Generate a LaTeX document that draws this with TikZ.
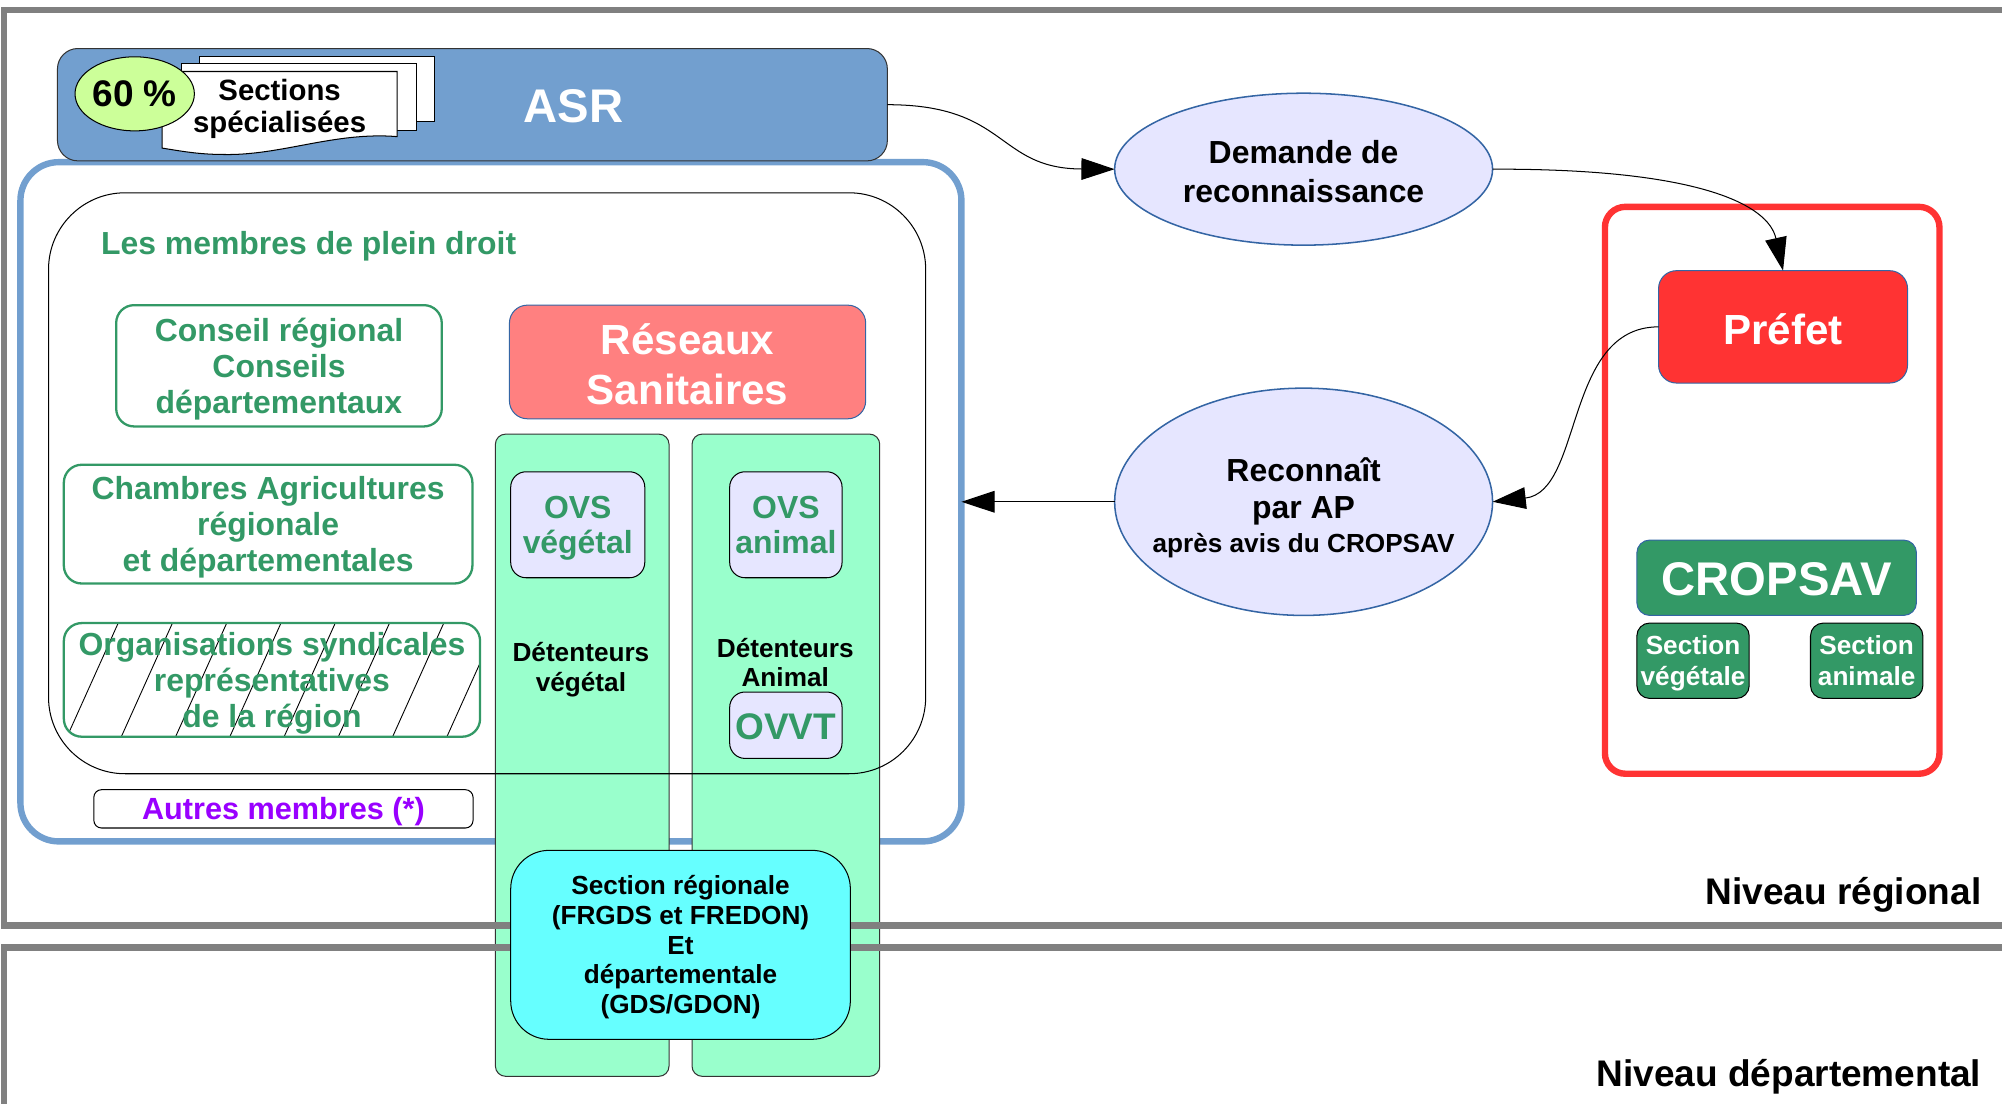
\documentclass[tikz,border=0pt]{standalone}
\usepackage{fontspec}
\setmainfont{Liberation Sans}
\usetikzlibrary{arrows.meta,shapes.geometric}
\definecolor{framegray}{HTML}{808080}
\definecolor{asrblue}{HTML}{729FCF}
\definecolor{borderblue}{HTML}{3465A4}
\definecolor{lightgreen}{HTML}{CCFF99}
\definecolor{memgreen}{HTML}{339966}
\definecolor{salmon}{HTML}{FF8080}
\definecolor{mint}{HTML}{99FFCC}
\definecolor{lavender}{HTML}{E6E6FF}
\definecolor{cyanbox}{HTML}{66FFFF}
\definecolor{redc}{HTML}{FF3333}
\definecolor{purp}{HTML}{9900FF}
\begin{document}
\begin{tikzpicture}[x=1pt,y=-1pt,
  grayframe/.style={draw=framegray,line width=5pt},
  membox/.style={draw=memgreen,line width=1.8pt,rounded corners=14pt,align=center,inner sep=0pt,outer sep=0pt,text=memgreen,font=\fontsize{25}{28}\selectfont\bfseries},
  ovsbox/.style={draw=black,line width=0.8pt,fill=lavender,rounded corners=12pt,align=center,inner sep=0pt,outer sep=0pt,text=memgreen,font=\fontsize{25}{28}\selectfont\bfseries},
  mintcol/.style={draw=black!80,line width=0.8pt,fill=mint,rounded corners=8pt,inner sep=0pt,outer sep=0pt},
  secbox/.style={draw=black,line width=0.8pt,fill=memgreen,rounded corners=10pt,align=center,inner sep=0pt,outer sep=0pt,text=white,font=\fontsize{20.5}{24}\selectfont\bfseries},
  bluebox/.style={draw=borderblue,line width=0.8pt,rounded corners=14pt,inner sep=0pt,outer sep=0pt},
  whitetext/.style={text=white,align=center,inner sep=0pt},
  oval/.style={ellipse,draw=borderblue,line width=1.2pt,fill=lavender,inner sep=0pt,outer sep=0pt,align=center},
  blacktext/.style={align=center,inner sep=0pt,font=\fontsize{20.5}{23}\selectfont\bfseries},
  arr/.style={line width=0.8pt,-{Triangle[length=26pt,width=17pt]}},
]
\useasboundingbox (0,0) rectangle (1568,864);

% blue frame
\node[draw=asrblue,line width=5pt,rounded corners=30pt,minimum width=737pt,minimum height=532pt,inner sep=0pt,outer sep=0pt] (blue) at (384.5,393) {};

% green columns
\node[mintcol,minimum width=136pt,minimum height=503pt] (colv) at (456,591.5) {};
\node[mintcol,minimum width=147pt,minimum height=503pt] (cola) at (615.5,591.5) {};

% level frames
\draw[grayframe] (1590,8) -- (3,8) -- (3,725) -- (1590,725);
\draw[grayframe] (1590,742) -- (3,742) -- (3,880);

% members of full right
\node[draw=black,line width=0.8pt,rounded corners=60pt,minimum width=687pt,minimum height=455pt,inner sep=0pt,outer sep=0pt] (members) at (381.5,378.5) {};

% ASR
\node[draw=black!80,line width=0.8pt,fill=asrblue,rounded corners=16pt,minimum width=650pt,minimum height=88pt,inner sep=0pt,outer sep=0pt] (asr) at (370,82) {};
\node[whitetext,font=\fontsize{37}{40}\selectfont\bfseries] (asrlabel) at (449,83) {ASR};

% multi document
\draw[fill=white,line width=0.8pt] (156,44) rectangle (340,95);
\draw[fill=white,line width=0.8pt] (142,50) rectangle (326,102);
\draw[fill=white,line width=0.8pt] (127,56) -- (311,56) -- (311,107) .. controls (262,103) and (220,122) .. (175,121) .. controls (155,121) and (140,118) .. (127,116) -- cycle;
\node[blacktext,font=\fontsize{23}{25}\selectfont\bfseries] (sect) at (219,85) {Sections\\spécialisées};
\node[ellipse,draw=black,line width=0.8pt,fill=lightgreen,minimum width=88pt,minimum height=58pt,inner sep=0pt,font=\fontsize{29}{30}\selectfont\bfseries] (pct) at (105.5,73.5) {60 \%};

% members
\node[anchor=west,inner sep=0pt,text=memgreen,font=\fontsize{25}{28}\selectfont\bfseries] (lesm) at (79,193) {Les membres de plein droit};
\node[membox,minimum width=255pt,minimum height=95pt,text depth=-0.7pt] (conseil) at (218.5,286.5) {Conseil régional\\Conseils\\départementaux};
\node[membox,minimum width=320pt,minimum height=93pt,text depth=-0.7pt] (chambres) at (210,410.5) {Chambres Agricultures\\régionale\\et départementales};
\begin{scope}
\clip[rounded corners=14pt] (50,488) rectangle (376,577);
\foreach \k in {-3,...,9} \draw[line width=0.7pt] ({52.5+42.5*\k-25},{577+55.6}) -- ++(90,-200);
\end{scope}
\node[membox,minimum width=326pt,minimum height=89pt,text depth=-1.7pt] (orgs) at (213,532.5) {Organisations syndicales\\représentatives\\de la région};
\node[draw=black,line width=0.8pt,fill=white,rounded corners=6pt,minimum width=297pt,minimum height=30pt,inner sep=0pt,text depth=-0.7pt,text=purp,font=\fontsize{24}{26}\selectfont\bfseries] (autres) at (222,633.5) {Autres membres (*)};

% reseaux sanitaires
\node[bluebox,fill=salmon,minimum width=279pt,minimum height=89pt] (res) at (538.5,283.5) {};
\node[whitetext,font=\fontsize{33}{39}\selectfont\bfseries] (restext) at (538.5,285.5) {Réseaux\\Sanitaires};
\node[ovsbox,minimum width=105pt,minimum height=83pt,text depth=-0.7pt] (ovsv) at (452.5,411) {OVS\\végétal};
\node[ovsbox,minimum width=88pt,minimum height=83pt,text depth=-2pt] (ovsa) at (615.5,411) {OVS\\animal};
\node[blacktext] (detv) at (455,524.5) {Détenteurs\\végétal};
\node[blacktext] (deta) at (615,519) {Détenteurs\\Animal};
\node[ovsbox,minimum width=88pt,minimum height=52pt] (ovvt) at (615.5,568) {};
\node[inner sep=0pt,text=memgreen,font=\fontsize{29}{30}\selectfont\bfseries] (ovvttext) at (615.5,569) {OVVT};

% section regionale
\node[draw=black,line width=0.8pt,fill=cyanbox,rounded corners=30pt,minimum width=266pt,minimum height=148pt,inner sep=0pt,outer sep=0pt,align=center,text depth=0.3pt,font=\fontsize{20.5}{23.3}\selectfont\bfseries] (secreg) at (533,740) {Section régionale\\(FRGDS et FREDON)\\Et\\départementale\\(GDS/GDON)};

% ellipses
\node[oval,minimum width=296pt,minimum height=119pt] (dem) at (1021,132.5) {};
\node[blacktext,font=\fontsize{25}{30}\selectfont\bfseries] (demtext) at (1021,134.5) {Demande de\\reconnaissance};
\node[oval,minimum width=296pt,minimum height=178pt] (rec) at (1021,393) {};
\node[blacktext,font=\fontsize{25}{29}\selectfont\bfseries] (rectext) at (1021,385) {Reconnaît\\par AP};
\node[blacktext] (recsub) at (1021,427) {après avis du CROPSAV};

% prefet / cropsav
\node[draw=redc,line width=5pt,rounded corners=16pt,minimum width=262pt,minimum height=444pt,inner sep=0pt,outer sep=0pt] (redframe) at (1388,384) {};
\node[bluebox,fill=redc,minimum width=195pt,minimum height=88pt] (pref) at (1396.5,256) {};
\node[whitetext,font=\fontsize{33}{36}\selectfont\bfseries] (preftext) at (1396.5,258) {Préfet};
\node[bluebox,fill=memgreen,rounded corners=10pt,minimum width=219pt,minimum height=59pt] (crop) at (1391.5,452.5) {};
\node[whitetext,font=\fontsize{37}{40}\selectfont\bfseries] (croptext) at (1391.5,453.5) {CROPSAV};
\node[secbox,minimum width=88pt,minimum height=59pt,text depth=-1.7pt] (secv) at (1326,517.5) {Section\\végétale};
\node[secbox,minimum width=88pt,minimum height=59pt,text depth=-4pt] (seca) at (1462,517.5) {Section\\animale};

% level labels
\node[anchor=east,inner sep=0pt,font=\fontsize{29}{30}\selectfont\bfseries] (nreg) at (1552,701) {Niveau régional};
\node[anchor=east,inner sep=0pt,font=\fontsize{29}{30}\selectfont\bfseries] (ndep) at (1552,843) {Niveau départemental};

% connectors
\draw[arr] (asr.east) .. controls (790,82) and (780,132) .. (dem.west);
\draw[arr] (dem.east) .. controls (1330,132) and (1385,160) .. (pref.north);
\draw[arr] (pref.west) .. controls (1225,256) and (1240,385) .. (rec.east);
\draw[arr] (rec.west) -- (blue.east);
\end{tikzpicture}
\end{document}
